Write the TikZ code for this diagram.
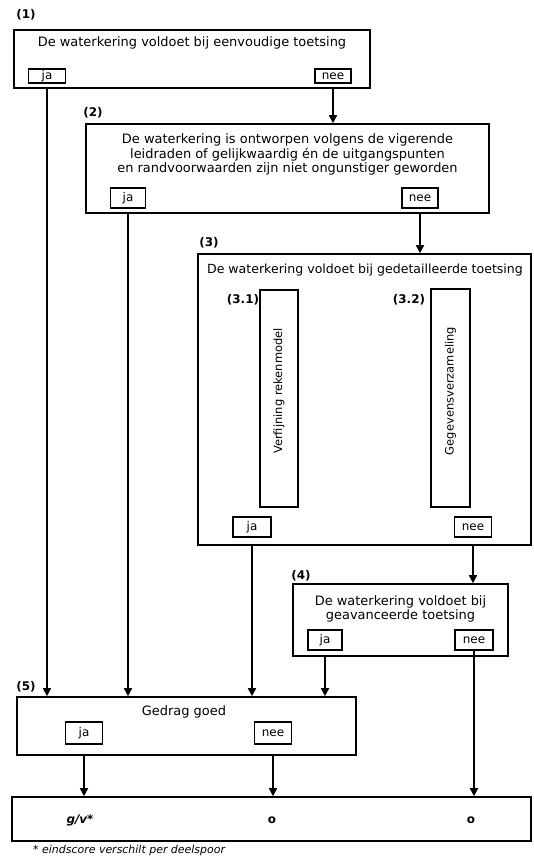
\documentclass[tikz,border=0pt]{standalone}
\usepackage{fontspec}
\setmainfont{DejaVu Sans}
\usetikzlibrary{arrows.meta}
\begin{document}
\begin{tikzpicture}[x=1bp,y=-1bp,
  outer/.style={draw,line width=1.6bp,rectangle,inner sep=0pt},
  yn/.style={draw,line width=1.4bp,rectangle,inner sep=0pt,font=\fontsize{12}{13}\selectfont},
  txt/.style={inner sep=0pt,align=center,font=\fontsize{13}{14.5}\selectfont},
  vtxt/.style={inner sep=0pt,rotate=90,font=\fontsize{11.5}{13}\selectfont},
  lbl/.style={inner sep=0pt,font=\bfseries\fontsize{12}{13}\selectfont},
  res/.style={inner sep=0pt,font=\bfseries\fontsize{12}{13}\selectfont},
  arr/.style={line width=1.6bp,-{Triangle[width=8bp,length=8bp]}}
]
\useasboundingbox (0,0) rectangle (534,859);
% box 1
\node[outer,minimum width=356bp,minimum height=58bp] (b1) at (192,59) {};
\node[txt] (t1) at (192,43) {De waterkering voldoet bij eenvoudige toetsing};
\node[yn,minimum width=37bp,minimum height=14bp] (ja1) at (47,76) {ja};
\node[yn,minimum width=36bp,minimum height=14bp] (nee1) at (333,76) {nee};
\node[lbl] (l1) at (26,15) {(1)};
% box 2
\node[outer,minimum width=403bp,minimum height=89bp] (b2) at (287.5,168.5) {};
\node[txt] (t2) at (287.5,154.5) {De waterkering is ontworpen volgens de vigerende\\leidraden of gelijkwaardig én de uitgangspunten\\en randvoorwaarden zijn niet ongunstiger geworden};
\node[yn,minimum width=35bp,minimum height=20bp] (ja2) at (128,198) {ja};
\node[yn,minimum width=36bp,minimum height=20bp] (nee2) at (420,198) {nee};
\node[lbl] (l2) at (93,113) {(2)};
% box 3
\node[outer,minimum width=333bp,minimum height=291bp] (b3) at (364.5,399.5) {};
\node[txt,font=\fontsize{12.6}{14}\selectfont] (t3) at (365,270) {De waterkering voldoet bij gedetailleerde toetsing};
\node[outer,line width=1.4bp,minimum width=38bp,minimum height=217bp] (b31) at (279,398.5) {};
\node[vtxt] (t31) at (279,391) {Verfijning rekenmodel};
\node[outer,line width=1.4bp,minimum width=39bp,minimum height=218bp] (b32) at (450.5,398) {};
\node[vtxt] (t32) at (450.5,391) {Gegevensverzameling};
\node[lbl] (l31) at (243,300) {(3.1)};
\node[lbl] (l32) at (409,300) {(3.2)};
\node[yn,minimum width=38bp,minimum height=20bp] (ja3) at (252,527) {ja};
\node[yn,minimum width=37bp,minimum height=20bp] (nee3) at (473,527) {nee};
\node[lbl] (l3) at (209,243) {(3)};
% box 4
\node[outer,minimum width=215bp,minimum height=72bp] (b4) at (400.5,620) {};
\node[txt] (t4) at (400.5,609) {De waterkering voldoet bij\\geavanceerde toetsing};
\node[yn,minimum width=34bp,minimum height=20bp] (ja4) at (325,640) {ja};
\node[yn,minimum width=38bp,minimum height=20bp] (nee4) at (474,640) {nee};
\node[lbl] (l4) at (301,576) {(4)};
% box 5
\node[outer,minimum width=339bp,minimum height=58bp] (b5) at (186.5,726) {};
\node[txt] (t5) at (184,712) {Gedrag goed};
\node[yn,minimum width=37bp,minimum height=22bp] (ja5) at (84,733) {ja};
\node[yn,minimum width=37bp,minimum height=22bp] (nee5) at (273,733) {nee};
\node[lbl] (l5) at (26,687) {(5)};
% box 6
\node[outer,minimum width=519bp,minimum height=44bp] (b6) at (271.5,819) {};
\node[res,font=\bfseries\itshape\fontsize{12}{13}\selectfont] (r1) at (80,820) {g/v*};
\node[res] (r2) at (272,820) {o};
\node[res] (r3) at (471,820) {o};
\node[inner sep=0pt,anchor=west,font=\itshape\fontsize{11}{13}\selectfont] (fn) at (33,850) {* eindscore verschilt per deelspoor};
% arrows
\draw[arr] (ja1 |- b1.south) -- (ja1 |- b5.north);
\draw[arr] (nee1 |- b1.south) -- (nee1 |- b2.north);
\draw[arr] (ja2 |- b2.south) -- (ja2 |- b5.north);
\draw[arr] (nee2 |- b2.south) -- (nee2 |- b3.north);
\draw[arr] (ja3 |- b3.south) -- (ja3 |- b5.north);
\draw[arr] (nee3 |- b3.south) -- (nee3 |- b4.north);
\draw[arr] (ja4 |- b4.south) -- (ja4 |- b5.north);
\draw[arr] (nee4.south) -- (nee4 |- b6.north);
\draw[arr] (ja5 |- b5.south) -- (ja5 |- b6.north);
\draw[arr] (nee5 |- b5.south) -- (nee5 |- b6.north);
\end{tikzpicture}
\end{document}
